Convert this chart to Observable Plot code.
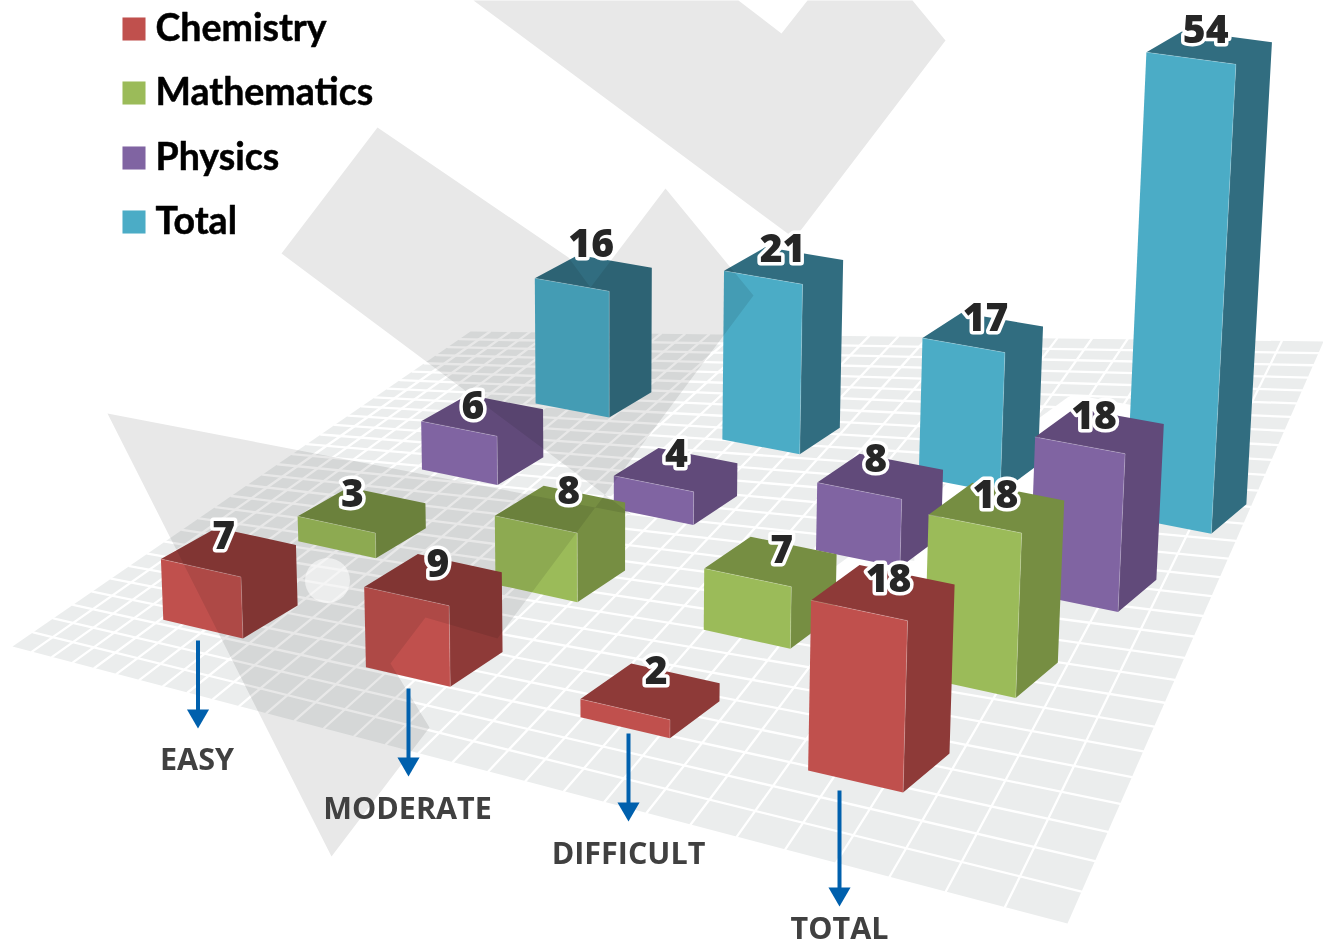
<!DOCTYPE html>
<html><head><meta charset="utf-8">
<style>html,body{margin:0;padding:0;background:#fff}svg{display:block}</style>
<script src="https://cdn.jsdelivr.net/npm/d3@7"></script>
<script src="https://cdn.jsdelivr.net/npm/@observablehq/plot@0.6"></script>
</head><body><div id="chart"></div>
<script>
const difficulties=["EASY","MODERATE","DIFFICULT","TOTAL"];
const subjects=["Chemistry","Mathematics","Physics","Total"];
const chemistry=[7,9,2,18];
const mathematics=[3,8,7,18];
const physics=[6,4,8,18];
const total=[16,21,17,54];
const seriesValues=[chemistry,mathematics,physics,total];
const frontColors=["#C0504D","#9BBB59","#8064A2","#4BACC6"];
const sideColors=["#8E3A38","#768E42","#614A7A","#316D80"];

// Camera: (difficulty index, subject index, value) -> picture position
const P=[192.45006,148.72333,-0.46280654,162.79545,28.747085,-53.605858,-9.1172713,619.34663,-0.027846332,0.046010551,-0.00076002848];
const a=0.4,b=0.4;
const project=(X,Y,Z)=>{const d=P[8]*X+P[9]*Y+P[10]*Z+1;return [(P[0]*X+P[1]*Y+P[2]*Z+P[3])/d,(P[4]*X+P[5]*Y+P[6]*Z+P[7])/d];};

const groundCorners=[[12,646],[1067,923],[1323,341],[470,331]];
const gridCells=30;
function homography(q){const [[x0,y0],[x1,y1],[x2,y2],[x3,y3]]=q;const dx1=x1-x2,dx2=x3-x2,sx=x0-x1+x2-x3,dy1=y1-y2,dy2=y3-y2,sy=y0-y1+y2-y3;const det=dx1*dy2-dx2*dy1;const g=(sx*dy2-dx2*sy)/det,h=(dx1*sy-sx*dy1)/det;const A=x1-x0+g*x1,B=x3-x0+h*x3,D=y1-y0+g*y1,E=y3-y0+h*y3;return (s,t)=>{const w=g*s+h*t+1;return [(A*s+B*t+x0)/w,(D*s+E*t+y0)/w];};}
const H=homography(groundCorners);
const gridRows=[];
for(let k=1;k<gridCells;k++){const t=k/gridCells;
 for(const [id,p,q] of [["u"+k,H(t,0),H(t,1)],["v"+k,H(0,t),H(1,t)]]){gridRows.push({id,px:p[0],py:p[1]},{id,px:q[0],py:q[1]});}}
const groundRows=groundCorners.map(c=>({px:c[0],py:c[1]}));

const overlayUpper=[[473,0],[794,238],[945,40],[912,0],[807,0],[781,33],[738,0]];
const overlayLower=[[377,127],[568,257],[590,287],[665,188],[753,295],[497,638],[425,617],[390,663],[429,727],[331,856],[107,413],[631,514],[281,253]];
const overlayRows=[...overlayUpper.map(p=>({id:"a",px:p[0],py:p[1]})),...overlayLower.map(p=>({id:"b",px:p[0],py:p[1]}))];

const labelDx=[[7,20,25,29],[4,25,31,23],[5,18,16,19],[13,17,24,22]];
const labelDy=[[9,10,8,14],[7,6,14,13],[12,7,6,9],[-10,2,6,0]];
const barMarks=[],labels=[],glowRows=[];
const ft=(x,y,z)=>{const p=project(x,y,z);return{px:p[0],py:p[1]};};
for(let j=3;j>=0;j--)for(let i=0;i<4;i++){const v=seriesValues[j][i],s=subjects[j],id=`${j}-${i}`;
 const poly=(name,key,pts)=>pts.map(p=>({id:id+name,key,...ft(...p)}));
 const rows=[...poly("d",s+" side",[[i,j,v],[i,j+b,v],[i+a,j+b,v],[i+a,j+b,0],[i+a,j,0],[i+a,j,v]]),
  ...poly("f",s,[[i,j,0],[i+a,j,0],[i+a,j,v],[i,j,v]])];
 barMarks.push(Plot.line(rows,{x:"px",y:"py",z:"id",fill:"key",stroke:null,curve:"linear-closed"}));
 barMarks.push(Plot.line([[i,j,v],[i+a,j,v],[i+a,j,0]].map(p=>ft(...p)),{x:"px",y:"py",stroke:"#fff",strokeOpacity:.25,strokeWidth:.8}));
 const bk=project(i,j+b,v);labels.push({label:String(v),px:bk[0]+labelDx[j][i],py:bk[1]+labelDy[j][i]});
 if(i===3&&j<3)glowRows.push(...[[i,j,j>0?v-7:v],[i,j,v],[i,j+b,v],[i+a,j+b,v]].map(p=>({id,...ft(...p)})));
}
const colorDomain=subjects.flatMap(s=>[s,s+" side"]);
const colorRange=frontColors.flatMap((c,i)=>[c,sideColors[i]]);
const legendRows=subjects.map((s,i)=>({s,py:[28.5,92.5,157.5,221.5][i]}));
const arrows=[[197.5,640,728],[408,688,776],[628,733,821],[839,790,906]].map(([px,y1,y2])=>({px,y1,y2}));
const catLabels=difficulties.map((t,i)=>({t,px:[196.5,407,628,839][i],py:[760,809,854,929][i]}));

const chart=Plot.plot({width:1323,height:943,margin:0,
 x:{domain:[0,1323],range:[0,1323],axis:null},
 y:{domain:[0,943],range:[0,943],axis:null},
 color:{domain:colorDomain,range:colorRange},
 style:{background:"#fff",overflow:"hidden"},
 marks:[
  Plot.line(groundRows,{x:"px",y:"py",fill:"#EBEDED",stroke:null,curve:"linear-closed"}),
  Plot.line(gridRows,{x:"px",y:"py",z:"id",stroke:"#fff",strokeWidth:2.3}),
  Plot.line(glowRows,{x:"px",y:"py",z:"id",stroke:"#fff",strokeWidth:26}),
  ...barMarks,
  Plot.line(overlayRows,{x:"px",y:"py",z:"id",fill:"#E8E8E8",stroke:null,curve:"linear-closed",mixBlendMode:"multiply"}),
  Plot.dot([{px:327,py:580}],{x:"px",y:"py",r:22.5,fill:"#fff",fillOpacity:.55,stroke:null}),
  Plot.link(arrows,{x1:"px",x2:"px",y1:"y1",y2:d=>d.y2-14,stroke:"#0060AD",strokeWidth:4}),
  Plot.dot(arrows,{x:"px",y:d=>d.y2-12.7,symbol:"triangle",rotate:180,r:8.2,fill:"#0060AD",stroke:null}),
  Plot.text(catLabels,{x:"px",y:"py",text:"t",fontFamily:"Open Sans",fontWeight:700,fontSize:30.5,fill:"#404040"}),
  Plot.text(labels,{x:"px",y:"py",text:"label",fontFamily:"Open Sans",fontWeight:800,fontSize:39,fill:"#262626",stroke:"#fff",strokeWidth:7,paintOrder:"stroke",letterSpacing:-1}),
  Plot.dot(legendRows,{x:()=>133.5,y:"py",symbol:"square",r:13,fill:"s",stroke:null}),
  Plot.text(legendRows,{x:()=>155,y:"py",text:"s",textAnchor:"start",fontFamily:"Lato",fontWeight:700,fontSize:37.5,fill:"#000",stroke:"#000",strokeWidth:.5})
 ]});
document.getElementById("chart").append(chart);
</script></body></html>
